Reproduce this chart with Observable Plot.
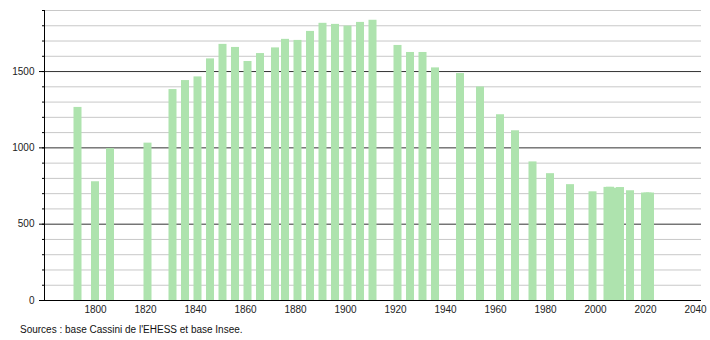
<!DOCTYPE html>
<html>
<head>
<meta charset="utf-8">
<script src="https://cdn.jsdelivr.net/npm/d3@7"></script>
<script src="https://cdn.jsdelivr.net/npm/@observablehq/plot@0.6"></script>
<style>
  html, body { margin: 0; padding: 0; background: #fff; }
  #chart svg { display: block; }
  #caption { font-family: "Liberation Sans", Arial, sans-serif; font-size: 10px; color: #111; padding-left: 20px; line-height: 14px; margin-top: 5px; }
</style>
</head>
<body>
<div id="chart"></div>
<div id="caption">Sources : base Cassini de l'EHESS et base Insee.</div>
<script>
const years = [1793,1800,1806,1821,1831,1836,1841,1846,1851,1856,1861,1866,1872,1876,1881,1886,1891,1896,1901,1906,1911,1921,1926,1931,1936,1946,1954,1962,1968,1975,1982,1990,1999,2005,2006,2007,2008,2009,2010,2014,2020,2021,2022];
const population = [1265,778,995,1031,1382,1441,1465,1583,1678,1658,1566,1618,1655,1711,1704,1763,1816,1809,1798,1822,1836,1671,1625,1625,1524,1487,1399,1217,1112,908,831,759,712,741,742,730,728,736,740,719,704,704,704];
const xTicks = [1800,1820,1840,1860,1880,1900,1920,1940,1960,1980,2000,2020,2040];
const yLabels = [0,500,1000,1500];
const yMinor = d3.range(0, 1901, 100);

const data = years.map((y, i) => ({year: y, pop: population[i]}));
const half = 1.6;

const chart = Plot.plot({
  width: 710,
  height: 318,
  marginLeft: 44,
  marginRight: 9,
  marginTop: 10,
  marginBottom: 18,
  style: {fontFamily: "'Liberation Sans', Arial, sans-serif", fontSize: "10px", color: "#222", background: "#fff"},
  x: {type: "linear", domain: [1779.6, 2042.4]},
  y: {type: "linear", domain: [0, 1900]},
  marks: [
    Plot.ruleY(yMinor.filter(v => v % 500 !== 0), {stroke: "#c8c8c8", strokeWidth: 1, strokeOpacity: 1}),
    Plot.ruleY(yLabels.filter(v => v > 0), {stroke: "#333", strokeWidth: 1, strokeOpacity: 1}),
    Plot.rectY(data, {x1: d => d.year - half, x2: d => d.year + half, y: "pop", fill: "#aee3ae"}),
    Plot.axisY({ticks: yMinor, tickSize: 2, tickFormat: () => "", label: null, stroke: "#000"}),
    Plot.axisY({ticks: yLabels, tickSize: 5, tickPadding: 5, tickFormat: d => String(d), label: null, stroke: "#000", fill: "#222"}),
    Plot.axisX({ticks: xTicks, tickSize: 0, tickPadding: 5, tickFormat: d => String(d), label: null, fill: "#222"}),
    Plot.ruleX([1779.6], {stroke: "#000", strokeWidth: 1}),
    Plot.ruleY([0], {stroke: "#000", strokeWidth: 1})
  ]
});
document.getElementById("chart").appendChild(chart);
</script>
</body>
</html>
